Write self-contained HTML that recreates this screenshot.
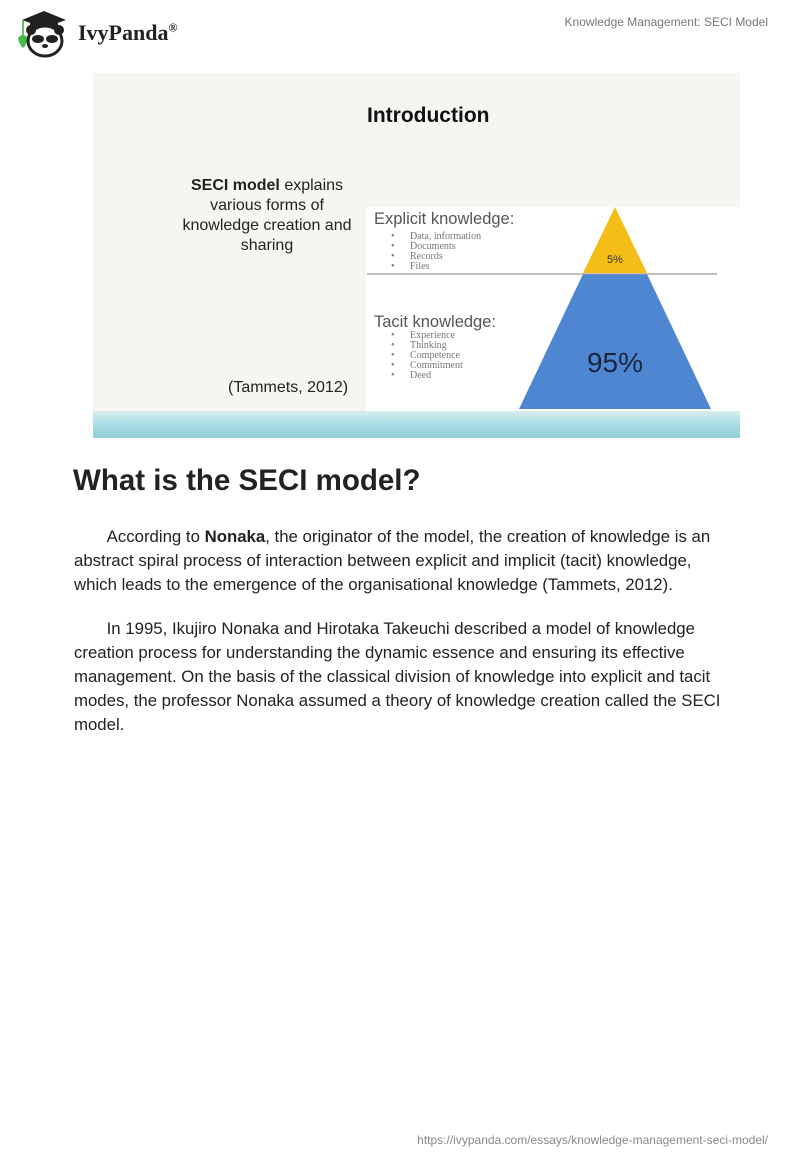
<!DOCTYPE html>
<html><head><meta charset="utf-8"><style>
*{margin:0;padding:0;box-sizing:border-box}
body{width:800px;height:1160px;background:#fff;position:relative;font-family:"Liberation Sans",sans-serif;color:#222;overflow:hidden}
.abs{position:absolute;white-space:nowrap}
p.t{position:absolute;left:74px;font-size:16.8px;line-height:24px;color:#222;white-space:nowrap}
</style></head><body>
<svg class="abs" style="left:14px;top:8px" width="62" height="50" viewBox="0 0 62 50">
<polygon points="8,12 30,3 52,12 30,20" fill="#222"/>
<rect x="16" y="14" width="28" height="6" fill="#222"/>
<line x1="9" y1="12" x2="9" y2="30" stroke="#3a3" stroke-width="1.5"/>
<path d="M4 30 Q9 24 14 30 Q12 38 9 40 Q5 36 4 30Z" fill="#4b4"/>
<ellipse cx="31" cy="33" rx="17" ry="15" fill="#fff" stroke="#222" stroke-width="3"/>
<circle cx="17" cy="22" r="5" fill="#222"/><circle cx="45" cy="22" r="5" fill="#222"/>
<ellipse cx="24" cy="31" rx="6" ry="4" fill="#222"/><ellipse cx="38" cy="31" rx="6" ry="4" fill="#222"/>
<ellipse cx="31" cy="38" rx="3" ry="2" fill="#222"/>
</svg>
<div class="abs" style="left:78px;top:20px;font-family:'Liberation Serif',serif;font-weight:bold;font-size:22px;color:#222">IvyPanda<sup style="font-size:12px">®</sup></div>
<div class="abs" style="right:32px;top:15px;font-size:12px;color:#777">Knowledge Management: SECI Model</div>

<div class="abs" style="left:93px;top:73px;width:647px;height:365px;background:#f6f5f1;overflow:hidden">
 <div class="abs" style="left:0;top:338px;width:647px;height:27px;background:linear-gradient(180deg,#d8eef0,#a8dde2 50%,#8fd0d6);"></div>
 <div class="abs" style="left:273px;top:134px;width:374px;height:204px;background:#fff"></div>
 <div class="abs" style="left:274px;top:31px;font-size:21px;font-weight:bold;color:#111">Introduction</div>
 <div class="abs" style="left:80px;top:103px;width:188px;text-align:center;font-size:16px;line-height:20px;color:#222;white-space:normal">
 <b>SECI model</b> explains various forms of knowledge creation and sharing</div>
 <div class="abs" style="left:135px;top:306px;font-size:16px;color:#222">(Tammets, 2012)</div>
 <svg class="abs" style="left:0;top:0" width="647" height="365">
  <polygon points="522,134 490,200 554,200" fill="#f5bd18"/>
  <polygon points="490,201 554,201 618,336 426,336" fill="#4f86d1"/>
  <line x1="274" y1="201" x2="624" y2="201" stroke="#999" stroke-width="1.3"/>
  <text x="522" y="190" font-family="Liberation Sans" font-size="11" fill="#333" text-anchor="middle">5%</text>
  <text x="522" y="299" font-family="Liberation Sans" font-size="28" fill="#1a2540" text-anchor="middle">95%</text>
  <text x="281" y="151" font-family="Liberation Sans" font-size="16.5" fill="#555">Explicit knowledge:</text>
  <text x="281" y="254" font-family="Liberation Sans" font-size="16.5" fill="#555">Tacit knowledge:</text>
  <g font-family="Liberation Serif" font-size="10" fill="#777">
   <text x="298" y="166">•</text><text x="317" y="166">Data, information</text>
   <text x="298" y="176">•</text><text x="317" y="176">Documents</text>
   <text x="298" y="186">•</text><text x="317" y="186">Records</text>
   <text x="298" y="196">•</text><text x="317" y="196">Files</text>
   <text x="298" y="265">•</text><text x="317" y="265">Experience</text>
   <text x="298" y="275">•</text><text x="317" y="275">Thinking</text>
   <text x="298" y="285">•</text><text x="317" y="285">Competence</text>
   <text x="298" y="295">•</text><text x="317" y="295">Commitment</text>
   <text x="298" y="305">•</text><text x="317" y="305">Deed</text>
  </g>
 </svg>
</div>

<div class="abs" style="left:73px;top:464px;font-size:29.5px;font-weight:bold;color:#222">What is the SECI model?</div>
<p class="t" style="top:525px">&nbsp;&nbsp;&nbsp;&nbsp;&nbsp;&nbsp;&nbsp;According to <b>Nonaka</b>, the originator of the model, the creation of knowledge is an<br>abstract spiral process of interaction between explicit and implicit (tacit) knowledge,<br>which leads to the emergence of the organisational knowledge (Tammets, 2012).</p>
<p class="t" style="top:617px">&nbsp;&nbsp;&nbsp;&nbsp;&nbsp;&nbsp;&nbsp;In 1995, Ikujiro Nonaka and Hirotaka Takeuchi described a model of knowledge<br>creation process for understanding the dynamic essence and ensuring its effective<br>management. On the basis of the classical division of knowledge into explicit and tacit<br>modes, the professor Nonaka assumed a theory of knowledge creation called the SECI<br>model.</p>

<div class="abs" style="right:32px;top:1133px;font-size:12px;color:#888">https://ivypanda.com/essays/knowledge-management-seci-model/</div>
</body></html>
